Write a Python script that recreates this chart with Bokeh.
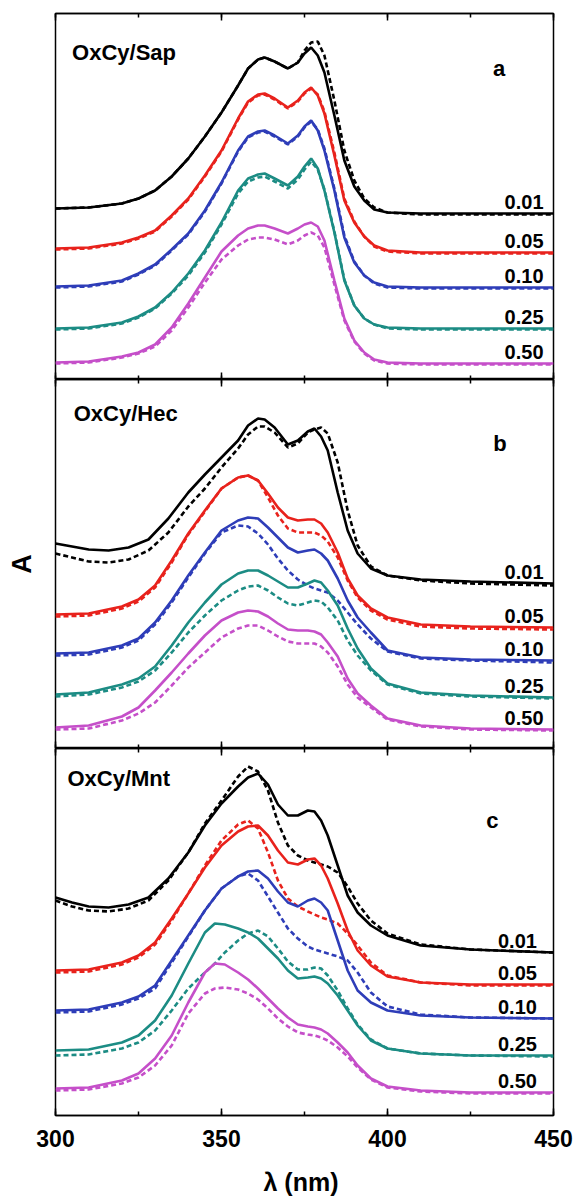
from bokeh.plotting import figure
from bokeh.models import Range1d, SingleIntervalTicker, LinearAxis, Label, CustomJSTickFormatter
from bokeh.layouts import column
from bokeh.embed import file_html
from bokeh.resources import INLINE

# ---------------- data (arbitrary stacked absorbance units) ----------------
CONCS = ["0.01", "0.05", "0.10", "0.25", "0.50"]
COLORS = ["#000000", "#e8221c", "#2e3db8", "#1c8c84", "#c54fc9"]

# Panel a : OxCy/Sap
WL_A = [300, 310, 320, 325, 330, 335, 340, 345, 350, 355, 358, 361, 363, 366, 370, 373, 375, 377, 379, 381, 384, 387, 390, 393, 396, 400, 410, 425, 450]
SAP_001 = [1.71, 1.72, 1.76, 1.81, 1.89, 2.03, 2.21, 2.43, 2.67, 2.94, 3.11, 3.20, 3.22, 3.18, 3.11, 3.17, 3.26, 3.32, 3.24, 3.07, 2.64, 2.19, 1.93, 1.79, 1.70, 1.67, 1.66, 1.66, 1.66]
SAP_001_D = [1.71, 1.72, 1.76, 1.81, 1.89, 2.03, 2.21, 2.43, 2.67, 2.94, 3.11, 3.20, 3.22, 3.18, 3.11, 3.17, 3.29, 3.37, 3.38, 3.24, 2.79, 2.29, 1.99, 1.81, 1.72, 1.67, 1.65, 1.65, 1.65]
SAP_005 = [1.31, 1.32, 1.37, 1.42, 1.49, 1.64, 1.81, 2.04, 2.29, 2.61, 2.78, 2.85, 2.86, 2.81, 2.72, 2.79, 2.87, 2.92, 2.84, 2.66, 2.24, 1.79, 1.57, 1.43, 1.34, 1.29, 1.27, 1.27, 1.27]
SAP_005_D = [1.30, 1.31, 1.36, 1.41, 1.48, 1.63, 1.80, 2.03, 2.28, 2.60, 2.77, 2.84, 2.85, 2.80, 2.71, 2.78, 2.86, 2.91, 2.85, 2.68, 2.27, 1.81, 1.58, 1.43, 1.33, 1.28, 1.26, 1.26, 1.26]
SAP_010 = [0.93, 0.94, 0.99, 1.06, 1.15, 1.30, 1.46, 1.69, 1.97, 2.29, 2.43, 2.48, 2.49, 2.44, 2.36, 2.44, 2.53, 2.59, 2.49, 2.29, 1.89, 1.42, 1.17, 1.04, 0.97, 0.93, 0.92, 0.92, 0.92]
SAP_010_D = [0.92, 0.93, 0.98, 1.05, 1.14, 1.29, 1.45, 1.68, 1.96, 2.28, 2.42, 2.47, 2.48, 2.43, 2.35, 2.43, 2.52, 2.58, 2.50, 2.31, 1.91, 1.44, 1.18, 1.04, 0.96, 0.92, 0.91, 0.91, 0.91]
SAP_025 = [0.51, 0.52, 0.57, 0.63, 0.72, 0.87, 1.06, 1.29, 1.57, 1.89, 2.01, 2.05, 2.06, 2.01, 1.94, 2.03, 2.13, 2.21, 2.11, 1.89, 1.47, 0.99, 0.74, 0.61, 0.55, 0.52, 0.51, 0.51, 0.51]
SAP_025_D = [0.50, 0.51, 0.56, 0.62, 0.71, 0.86, 1.04, 1.27, 1.55, 1.86, 1.98, 2.02, 2.03, 1.98, 1.91, 2.00, 2.10, 2.18, 2.10, 1.90, 1.48, 1.00, 0.74, 0.61, 0.55, 0.51, 0.50, 0.50, 0.50]
SAP_050 = [0.17, 0.18, 0.23, 0.27, 0.35, 0.52, 0.76, 1.02, 1.28, 1.44, 1.51, 1.54, 1.54, 1.51, 1.46, 1.51, 1.55, 1.57, 1.53, 1.39, 0.99, 0.61, 0.39, 0.27, 0.20, 0.17, 0.16, 0.16, 0.16]
SAP_050_D = [0.16, 0.17, 0.22, 0.26, 0.33, 0.49, 0.72, 0.97, 1.20, 1.34, 1.40, 1.42, 1.42, 1.40, 1.35, 1.39, 1.44, 1.47, 1.44, 1.32, 0.95, 0.59, 0.38, 0.26, 0.19, 0.16, 0.15, 0.15, 0.15]

# Panel b : OxCy/Hec
WL_B_BLACK = [300, 310, 316, 322, 328, 334, 340, 345, 350, 355, 358, 361, 363, 366, 370, 373, 376, 378, 380, 382, 385, 388, 391, 395, 400, 410, 425, 450]
WL_B = [300, 310, 320, 325, 330, 335, 340, 345, 350, 355, 358, 361, 364, 367, 370, 373, 376, 378, 380, 382, 385, 388, 391, 395, 400, 410, 425, 450]
HEC_001 = [2.05, 1.99, 1.98, 2.01, 2.09, 2.30, 2.56, 2.74, 2.91, 3.08, 3.23, 3.30, 3.29, 3.21, 3.04, 3.08, 3.17, 3.20, 3.12, 2.98, 2.56, 2.18, 1.95, 1.80, 1.73, 1.69, 1.67, 1.65]
HEC_001_D = [1.95, 1.87, 1.86, 1.89, 1.98, 2.16, 2.42, 2.60, 2.81, 3.00, 3.14, 3.22, 3.22, 3.16, 3.01, 3.05, 3.16, 3.19, 3.21, 3.15, 2.86, 2.38, 2.03, 1.82, 1.73, 1.68, 1.65, 1.63]
HEC_005 = [1.34, 1.35, 1.42, 1.49, 1.63, 1.88, 2.15, 2.38, 2.60, 2.71, 2.73, 2.68, 2.55, 2.41, 2.31, 2.28, 2.29, 2.29, 2.25, 2.16, 1.96, 1.70, 1.53, 1.40, 1.31, 1.24, 1.22, 1.21]
HEC_005_D = [1.32, 1.33, 1.40, 1.47, 1.61, 1.86, 2.14, 2.37, 2.60, 2.71, 2.73, 2.68, 2.51, 2.33, 2.20, 2.16, 2.16, 2.16, 2.13, 2.07, 1.91, 1.68, 1.51, 1.38, 1.29, 1.22, 1.20, 1.19]
HEC_010 = [0.95, 0.96, 1.03, 1.10, 1.26, 1.48, 1.73, 1.96, 2.18, 2.28, 2.31, 2.30, 2.21, 2.11, 2.01, 1.96, 1.98, 1.99, 1.95, 1.88, 1.70, 1.48, 1.31, 1.16, 0.98, 0.91, 0.89, 0.88]
HEC_010_D = [0.93, 0.94, 1.01, 1.08, 1.24, 1.46, 1.71, 1.95, 2.16, 2.23, 2.22, 2.15, 2.04, 1.90, 1.78, 1.69, 1.63, 1.60, 1.58, 1.56, 1.48, 1.36, 1.24, 1.10, 0.97, 0.90, 0.88, 0.86]
HEC_025 = [0.54, 0.56, 0.64, 0.70, 0.82, 1.03, 1.26, 1.46, 1.64, 1.75, 1.78, 1.78, 1.73, 1.67, 1.61, 1.61, 1.65, 1.68, 1.66, 1.58, 1.43, 1.20, 1.00, 0.80, 0.65, 0.56, 0.53, 0.51]
HEC_025_D = [0.52, 0.54, 0.61, 0.67, 0.78, 0.96, 1.16, 1.33, 1.48, 1.58, 1.62, 1.63, 1.58, 1.51, 1.45, 1.43, 1.46, 1.48, 1.47, 1.41, 1.28, 1.08, 0.93, 0.78, 0.64, 0.55, 0.52, 0.50]
HEC_050 = [0.21, 0.23, 0.32, 0.41, 0.58, 0.76, 0.95, 1.13, 1.28, 1.36, 1.38, 1.37, 1.32, 1.25, 1.19, 1.18, 1.18, 1.17, 1.14, 1.06, 0.92, 0.70, 0.55, 0.43, 0.30, 0.23, 0.20, 0.19]
HEC_050_D = [0.19, 0.20, 0.28, 0.35, 0.46, 0.63, 0.81, 0.96, 1.11, 1.20, 1.23, 1.23, 1.18, 1.12, 1.07, 1.05, 1.05, 1.05, 1.02, 0.96, 0.82, 0.64, 0.51, 0.41, 0.29, 0.22, 0.19, 0.18]

# Panel c : OxCy/Mnt
WL_C_BLACK = [300, 305, 310, 316, 322, 328, 334, 340, 345, 350, 355, 358, 361, 364, 367, 370, 373, 376, 378, 380, 382, 385, 388, 391, 395, 400, 410, 425, 450]
WL_C = [300, 310, 320, 325, 330, 335, 340, 345, 350, 355, 358, 361, 364, 367, 370, 373, 376, 378, 380, 382, 385, 388, 391, 395, 400, 410, 425, 450]
WL_C_LOW = [300, 310, 320, 325, 330, 335, 340, 345, 348, 351, 355, 358, 361, 364, 367, 370, 373, 376, 378, 380, 382, 385, 388, 391, 395, 400, 410, 425, 450]
MNT_001 = [2.18, 2.13, 2.09, 2.08, 2.11, 2.18, 2.37, 2.63, 2.90, 3.12, 3.29, 3.38, 3.42, 3.31, 3.11, 3.00, 3.00, 3.05, 3.04, 2.95, 2.80, 2.50, 2.20, 2.03, 1.90, 1.80, 1.70, 1.66, 1.63]
MNT_001_D = [2.15, 2.09, 2.05, 2.04, 2.07, 2.15, 2.35, 2.63, 2.92, 3.15, 3.39, 3.49, 3.44, 3.25, 2.93, 2.70, 2.60, 2.55, 2.53, 2.51, 2.49, 2.43, 2.29, 2.12, 1.95, 1.82, 1.71, 1.66, 1.63]
MNT_005 = [1.45, 1.46, 1.53, 1.60, 1.73, 1.97, 2.22, 2.48, 2.70, 2.84, 2.89, 2.90, 2.80, 2.65, 2.53, 2.51, 2.56, 2.57, 2.50, 2.37, 2.12, 1.85, 1.65, 1.50, 1.39, 1.33, 1.31, 1.31]
MNT_005_D = [1.43, 1.44, 1.51, 1.58, 1.71, 1.95, 2.22, 2.50, 2.75, 2.91, 2.95, 2.87, 2.63, 2.35, 2.17, 2.09, 2.04, 2.01, 1.98, 1.96, 1.92, 1.82, 1.70, 1.53, 1.40, 1.33, 1.30, 1.30]
MNT_010 = [1.05, 1.06, 1.13, 1.19, 1.30, 1.55, 1.80, 2.05, 2.27, 2.39, 2.44, 2.45, 2.37, 2.24, 2.13, 2.09, 2.15, 2.17, 2.13, 2.05, 1.75, 1.45, 1.25, 1.13, 1.05, 1.00, 0.98, 0.97]
MNT_010_D = [1.03, 1.04, 1.11, 1.17, 1.27, 1.53, 1.79, 2.05, 2.27, 2.39, 2.42, 2.35, 2.19, 2.03, 1.87, 1.77, 1.69, 1.66, 1.64, 1.62, 1.59, 1.55, 1.43, 1.23, 1.09, 1.01, 0.98, 0.97]
MNT_025 = [0.65, 0.66, 0.73, 0.80, 0.95, 1.20, 1.52, 1.83, 1.92, 1.91, 1.87, 1.83, 1.77, 1.67, 1.57, 1.45, 1.37, 1.38, 1.39, 1.37, 1.32, 1.20, 1.05, 0.90, 0.75, 0.67, 0.62, 0.60, 0.60]
MNT_025_D = [0.60, 0.61, 0.67, 0.73, 0.85, 1.05, 1.27, 1.43, 1.52, 1.63, 1.75, 1.82, 1.85, 1.79, 1.67, 1.54, 1.46, 1.46, 1.48, 1.47, 1.40, 1.25, 1.07, 0.91, 0.76, 0.67, 0.62, 0.60, 0.59]
MNT_050 = [0.27, 0.28, 0.35, 0.42, 0.57, 0.80, 1.13, 1.43, 1.52, 1.51, 1.43, 1.36, 1.27, 1.17, 1.07, 0.98, 0.91, 0.89, 0.88, 0.86, 0.82, 0.73, 0.63, 0.50, 0.37, 0.29, 0.25, 0.23, 0.23]
MNT_050_D = [0.25, 0.26, 0.32, 0.38, 0.50, 0.70, 1.02, 1.22, 1.27, 1.28, 1.26, 1.22, 1.16, 1.07, 0.97, 0.89, 0.83, 0.81, 0.80, 0.78, 0.75, 0.68, 0.59, 0.48, 0.36, 0.28, 0.24, 0.22, 0.22]

# ---------------- drawing ----------------
FONT = "Liberation Sans"
W = 580
LEFT = 55
FRAME_W = 498


def style_x_axis(ax, show_labels):
    ax.ticker = SingleIntervalTicker(interval=50, num_minor_ticks=2)
    ax.axis_line_color = "black"
    ax.axis_line_width = 1.5
    ax.major_tick_line_color = "black"
    ax.major_tick_line_width = 1.5
    ax.minor_tick_line_color = "black"
    ax.minor_tick_line_width = 1.5
    ax.major_tick_in = 7
    ax.major_tick_out = 0
    ax.minor_tick_in = 4
    ax.minor_tick_out = 0
    if show_labels:
        ax.major_label_text_font = FONT
        ax.major_label_text_font_style = "bold"
        ax.major_label_text_font_size = "23px"
        ax.major_label_text_color = "black"
        ax.major_label_standoff = 14
        ax.axis_label = "λ  (nm)"
        ax.axis_label_text_font = FONT
        ax.axis_label_text_font_style = "bold"
        ax.axis_label_text_font_size = "25px"
        ax.axis_label_text_color = "black"
        ax.axis_label_standoff = 18
    else:
        ax.formatter = CustomJSTickFormatter(code="return ''")
        ax.major_label_text_font_size = "0px"
        ax.major_label_standoff = 0


def make_panel(height, top, bottom, ymax, wls, solids, dashes, title, title_xy, letter, letter_xy, lab_x, bottom_labels, y_label):
    p = figure(width=W, height=height, x_range=Range1d(300, 450), y_range=Range1d(0, ymax),
               output_backend="svg", toolbar_location=None,
               x_axis_location=None, y_axis_location=None,
               min_border_left=LEFT, min_border_right=W - LEFT - FRAME_W,
               min_border_top=top, min_border_bottom=bottom)
    p.grid.visible = False
    p.outline_line_color = "black"
    p.outline_line_width = 1.5
    p.background_fill_color = "white"
    p.border_fill_color = "white"

    top_ax = LinearAxis()
    style_x_axis(top_ax, False)
    p.add_layout(top_ax, "above")
    bot_ax = LinearAxis()
    style_x_axis(bot_ax, bottom_labels)
    p.add_layout(bot_ax, "below")

    if y_label:
        yax = LinearAxis()
        yax.formatter = CustomJSTickFormatter(code="return ''")
        yax.major_tick_line_color = None
        yax.minor_tick_line_color = None
        yax.axis_line_color = None
        yax.major_label_text_font_size = "0px"
        yax.major_label_standoff = 0
        yax.axis_label = "A"
        yax.axis_label_text_font = FONT
        yax.axis_label_text_font_style = "bold"
        yax.axis_label_text_font_size = "27px"
        yax.axis_label_text_color = "black"
        yax.axis_label_standoff = 13
        p.add_layout(yax, "left")

    for wl, ys, yd, col, conc in zip(wls, solids, dashes, COLORS, CONCS):
        p.line(wl, yd, line_color=col, line_width=2.6, line_dash="5 3")
        p.line(wl, ys, line_color=col, line_width=2.6)
        p.add_layout(Label(x=lab_x, y=ys[-1] + 0.05, text=conc, text_font=FONT,
                           text_font_style="bold", text_font_size="20px", text_color="black",
                           text_align="right", text_baseline="bottom"))

    p.add_layout(Label(x=title_xy[0], y=title_xy[1], text=title, text_font=FONT,
                       text_font_style="bold", text_font_size="22px", text_color="black",
                       text_align="left", text_baseline="middle"))
    p.add_layout(Label(x=letter_xy[0], y=letter_xy[1], text=letter, text_font=FONT,
                       text_font_style="bold", text_font_size="22px", text_color="black",
                       text_align="center", text_baseline="middle"))
    return p


pa = make_panel(379, 13, 0, 3.66, [WL_A] * 5,
                [SAP_001, SAP_005, SAP_010, SAP_025, SAP_050],
                [SAP_001_D, SAP_005_D, SAP_010_D, SAP_025_D, SAP_050_D],
                "OxCy/Sap", (305, 3.27), "a", (433.6, 3.11), 447, False, False)
pb = make_panel(369, 0, 0, 3.69, [WL_B_BLACK, WL_B, WL_B, WL_B, WL_B],
                [HEC_001, HEC_005, HEC_010, HEC_025, HEC_050],
                [HEC_001_D, HEC_005_D, HEC_010_D, HEC_025_D, HEC_050_D],
                "OxCy/Hec", (305.5, 3.35), "b", (433.9, 3.05), 447, False, True)
pc = make_panel(455, 0, 88, 3.67, [WL_C_BLACK, WL_C, WL_C, WL_C_LOW, WL_C_LOW],
                [MNT_001, MNT_005, MNT_010, MNT_025, MNT_050],
                [MNT_001_D, MNT_005_D, MNT_010_D, MNT_025_D, MNT_050_D],
                "OxCy/Mnt", (303.6, 3.37), "c", (431.6, 2.95), 445, True, False)

layout = column(pa, pb, pc, spacing=0)
open("out.html", "w").write(file_html(layout, INLINE))
